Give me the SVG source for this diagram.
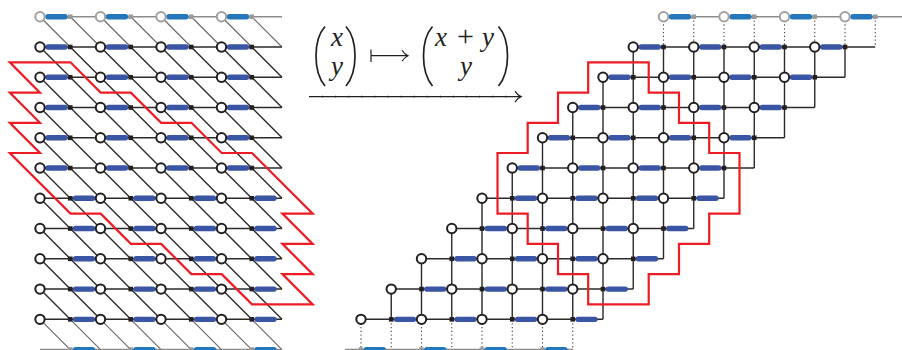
<svg xmlns="http://www.w3.org/2000/svg" xmlns:xlink="http://www.w3.org/1999/xlink" width="902" height="350" viewBox="0 0 902 350">
<style>
.h{fill:none;stroke:#2a2a2a;stroke-width:1.5}
.hg{fill:none;stroke:#8c8c8c;stroke-width:1.6}
.e{fill:none;stroke:#2a2a2a;stroke-width:1.4}
.eg{fill:none;stroke:#666;stroke-width:1.1}
.dot{fill:none;stroke:#444;stroke-width:1.1;stroke-dasharray:1.3 2.5}
.b{fill:none;stroke:#3a55a4;stroke-width:5.4;stroke-linecap:round}
.bt{fill:none;stroke:#2577bb;stroke-width:5.4;stroke-linecap:round}
.s{fill:#231f20}
.sg{fill:#999}
.c{fill:#fff;stroke:#231f20;stroke-width:2}
.cg{fill:#fff;stroke:#a0a0a0;stroke-width:2}
.red{fill:none;stroke:#ed1c24;stroke-width:2.2;stroke-linejoin:miter}
.m{font-family:"Liberation Serif","DejaVu Serif",serif;font-size:27px;font-style:italic;fill:#231f20}
.p{font-family:"Liberation Serif","DejaVu Serif",serif;font-size:30px;fill:#231f20}
.par{fill:none;stroke:#231f20;stroke-width:1.7}
.arr{fill:none;stroke:#231f20;stroke-width:1.2}
</style>
<defs>
<marker id="head" markerUnits="userSpaceOnUse" markerWidth="10" markerHeight="14" refX="7" refY="7" orient="auto" overflow="visible">
<path d="M1 1.5Q3.5 5.6 7 7Q3.5 8.4 1 12.5" fill="none" stroke="#231f20" stroke-width="1.2"/>
</marker>
<g id="sq"><rect x="-2.3" y="-2.3" width="4.6" height="4.6" class="s"/></g>
<g id="sqg"><rect x="-2.3" y="-2.3" width="4.6" height="4.6" class="sg"/></g>
<path id="diag" class="e" d="M0 0l30.25 30.26M30.25 0l30.25 30.26M60.5 0l30.25 30.26M90.75 0l30.25 30.26M121 0l30.25 30.26M151.25 0l30.25 30.26M181.5 0l30.25 30.26M211.75 0l30.25 30.26"/>
<path id="diagg" class="eg" d="M0 0l30.25 30.26M30.25 0l30.25 30.26M60.5 0l30.25 30.26M90.75 0l30.25 30.26M121 0l30.25 30.26M151.25 0l30.25 30.26M181.5 0l30.25 30.26M211.75 0l30.25 30.26"/>
<path id="vert" class="e" d="M0 0v30.26M30.25 0v30.26M60.5 0v30.26M90.75 0v30.26M121 0v30.26M151.25 0v30.26M181.5 0v30.26M211.75 0v30.26"/>
<path id="vdot" class="dot" d="M0 0v30.26M30.25 0v30.26M60.5 0v30.26M90.75 0v30.26M121 0v30.26M151.25 0v30.26M181.5 0v30.26M211.75 0v30.26"/>
<g id="rowA">
<path class="h" d="M0 0H242"/>
<path class="b" d="M8 0H25M68.5 0H85.5M129 0H146M189.5 0H206.5"/>
<use xlink:href="#sq" href="#sq" x="30.25"/><use xlink:href="#sq" href="#sq" x="90.75"/><use xlink:href="#sq" href="#sq" x="151.25"/><use xlink:href="#sq" href="#sq" x="211.75"/>
<circle class="c" r="4.7"/><circle class="c" cx="60.5" r="4.7"/><circle class="c" cx="121" r="4.7"/><circle class="c" cx="181.5" r="4.7"/>
</g>
<g id="rowB">
<path class="h" d="M0 0H242"/>
<path class="b" d="M35.5 0H52.5M96 0H113M156.5 0H173.5M217 0H234"/>
<use xlink:href="#sq" href="#sq" x="30.25"/><use xlink:href="#sq" href="#sq" x="90.75"/><use xlink:href="#sq" href="#sq" x="151.25"/><use xlink:href="#sq" href="#sq" x="211.75"/>
<circle class="c" r="4.7"/><circle class="c" cx="60.5" r="4.7"/><circle class="c" cx="121" r="4.7"/><circle class="c" cx="181.5" r="4.7"/>
</g>
<g id="rowTop">
<path class="hg" d="M0 0H242"/>
<path class="bt" d="M8 0H25M68.5 0H85.5M129 0H146M189.5 0H206.5"/>
<use xlink:href="#sqg" href="#sqg" x="30.25"/><use xlink:href="#sqg" href="#sqg" x="90.75"/><use xlink:href="#sqg" href="#sqg" x="151.25"/><use xlink:href="#sqg" href="#sqg" x="211.75"/>
<circle class="cg" r="4.7"/><circle class="cg" cx="60.5" r="4.7"/><circle class="cg" cx="121" r="4.7"/><circle class="cg" cx="181.5" r="4.7"/>
</g>
<g id="rowBot">
<path class="bt" d="M35.5 0H52.5M96 0H113M156.5 0H173.5M217 0H234"/>
<use xlink:href="#sqg" href="#sqg" x="30.25"/><use xlink:href="#sqg" href="#sqg" x="90.75"/><use xlink:href="#sqg" href="#sqg" x="151.25"/><use xlink:href="#sqg" href="#sqg" x="211.75"/>
</g>
</defs>

<g id="connectors">
<g id="left-edges">
<use xlink:href="#diagg" href="#diagg" x="40" y="16.74"/>
<use xlink:href="#diag" href="#diag" x="40" y="47"/>
<use xlink:href="#diag" href="#diag" x="40" y="77.26"/>
<use xlink:href="#diag" href="#diag" x="40" y="107.52"/>
<use xlink:href="#diag" href="#diag" x="40" y="137.78"/>
<use xlink:href="#diag" href="#diag" x="40" y="168.04"/>
<use xlink:href="#diag" href="#diag" x="40" y="198.3"/>
<use xlink:href="#diag" href="#diag" x="40" y="228.56"/>
<use xlink:href="#diag" href="#diag" x="40" y="258.82"/>
<use xlink:href="#diag" href="#diag" x="40" y="289.08"/>
<use xlink:href="#diagg" href="#diagg" x="40" y="319.34"/>
</g>
<g id="right-edges">
<use xlink:href="#vdot" href="#vdot" x="663.5" y="16.74"/>
<use xlink:href="#vert" href="#vert" x="633.25" y="47"/>
<use xlink:href="#vert" href="#vert" x="603" y="77.26"/>
<use xlink:href="#vert" href="#vert" x="572.75" y="107.52"/>
<use xlink:href="#vert" href="#vert" x="542.5" y="137.78"/>
<use xlink:href="#vert" href="#vert" x="512.25" y="168.04"/>
<use xlink:href="#vert" href="#vert" x="482" y="198.3"/>
<use xlink:href="#vert" href="#vert" x="451.75" y="228.56"/>
<use xlink:href="#vert" href="#vert" x="421.5" y="258.82"/>
<use xlink:href="#vert" href="#vert" x="391.25" y="289.08"/>
<use xlink:href="#vdot" href="#vdot" x="361" y="319.34"/>
</g>
<path id="bottom-lines" class="hg" d="M40 349.6H282M345 349.6H573"/>
</g>

<g id="left-lattice">
<use id="l0" xlink:href="#rowTop" href="#rowTop" x="40" y="16.74"/>
<use id="l1" xlink:href="#rowA" href="#rowA" x="40" y="47"/>
<use id="l2" xlink:href="#rowA" href="#rowA" x="40" y="77.26"/>
<use id="l3" xlink:href="#rowA" href="#rowA" x="40" y="107.52"/>
<use id="l4" xlink:href="#rowA" href="#rowA" x="40" y="137.78"/>
<use id="l5" xlink:href="#rowA" href="#rowA" x="40" y="168.04"/>
<use id="l6" xlink:href="#rowB" href="#rowB" x="40" y="198.3"/>
<use id="l7" xlink:href="#rowB" href="#rowB" x="40" y="228.56"/>
<use id="l8" xlink:href="#rowB" href="#rowB" x="40" y="258.82"/>
<use id="l9" xlink:href="#rowB" href="#rowB" x="40" y="289.08"/>
<use id="l10" xlink:href="#rowB" href="#rowB" x="40" y="319.34"/>
<use id="l11" xlink:href="#rowBot" href="#rowBot" x="40" y="349.6"/>
</g>

<g id="right-lattice">
<use id="r0" xlink:href="#rowTop" href="#rowTop" x="663.5" y="16.74"/>
<use id="r1" xlink:href="#rowA" href="#rowA" x="633.25" y="47"/>
<use id="r2" xlink:href="#rowA" href="#rowA" x="603" y="77.26"/>
<use id="r3" xlink:href="#rowA" href="#rowA" x="572.75" y="107.52"/>
<use id="r4" xlink:href="#rowA" href="#rowA" x="542.5" y="137.78"/>
<use id="r5" xlink:href="#rowA" href="#rowA" x="512.25" y="168.04"/>
<use id="r6" xlink:href="#rowB" href="#rowB" x="482" y="198.3"/>
<use id="r7" xlink:href="#rowB" href="#rowB" x="451.75" y="228.56"/>
<use id="r8" xlink:href="#rowB" href="#rowB" x="421.5" y="258.82"/>
<use id="r9" xlink:href="#rowB" href="#rowB" x="391.25" y="289.08"/>
<use id="r10" xlink:href="#rowB" href="#rowB" x="361" y="319.34"/>
<use id="r11" xlink:href="#rowBot" href="#rowBot" x="330.75" y="349.6"/>
</g>

<path id="left-region" class="red" d="M9.8 62.3H70.5L100.7 92.6H130.9L161.2 122.8H191.4L221.7 153H252L312.7 213.6H282.4L312.7 243.9H282.4L312.7 274.1H282.4L312.7 304.4H252L221.7 274.1H191.4L161.2 243.9H130.9L100.7 213.6H70.5L9.8 153H40L9.8 122.8H40L9.8 92.6H40Z"/>
<path id="right-region" class="red" d="M588.2 62.3H648.7V92.6H679V122.8H709.2V153H739.5V213.6H709.2V243.9H679V274.1H648.7V304.4H588.2V274.1H558V243.9H527.7V213.6H497.5V153H527.7V122.8H558V92.6H588.2Z"/>

<g id="formula">
<path class="par" d="M325 26.5C313 40 313 72 325 86"/>
<path class="par" d="M346 26.5C358 40 358 72 346 86"/>
<text class="m" x="331" y="46">x</text>
<text class="m" x="331" y="75">y</text>
<path class="arr" d="M371 49.5V62M371 55.7H408" marker-end="url(#head)"/>
<path class="par" d="M432.5 26.5C420.5 40 420.5 72 432.5 86"/>
<path class="par" d="M498.5 26.5C510.5 40 510.5 72 498.5 86"/>
<text class="m" x="435" y="46">x</text>
<text class="p" x="457" y="46">+</text>
<text class="m" x="482" y="46">y</text>
<text class="m" x="460" y="75">y</text>
</g>
<path id="long-arrow" class="arr" d="M309 96.6H521" marker-end="url(#head)"/>
<path id="long-arrow-dots" class="arr" stroke-dasharray="1 12.1" d="M322 96.6H515" style="stroke-width:1.8"/>
</svg>
